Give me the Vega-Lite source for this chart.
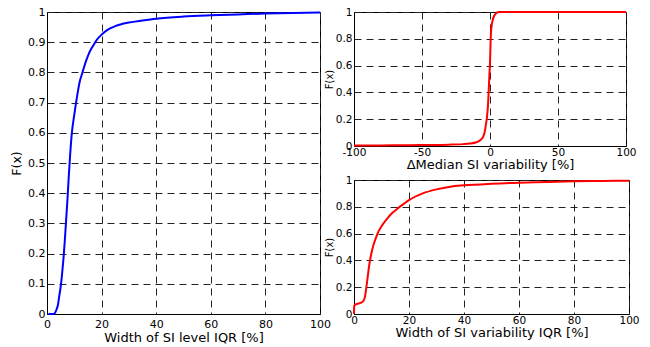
{
  "$schema": "https://vega.github.io/schema/vega-lite/v6.json",
  "padding": {"left": 10, "top": 5, "right": 0, "bottom": 0},
  "background": "white",
  "bounds": "flush",
  "spacing": 34,
  "config": {
    "font": "DejaVu Sans",
    "view": {"stroke": "black", "strokeWidth": 1},
    "axis": {
      "grid": true,
      "gridColor": "#222",
      "gridDash": [7, 5],
      "gridWidth": 1,
      "domainColor": "black",
      "ticks": false,
      "labelFont": "DejaVu Sans",
      "titleFont": "DejaVu Sans",
      "labelColor": "black",
      "titleColor": "black",
      "titleFontWeight": "normal",
      "labelFlush": false,
      "labelOverlap": false,
      "labelExpr": "'' + datum.value"
    }
  },
  "datasets": {
    "level": [
      {"x": 0.5, "F": 0}, {"x": 2.5, "F": 0}, {"x": 3, "F": 0.005}, {"x": 3.5, "F": 0.015},
      {"x": 4, "F": 0.03}, {"x": 4.5, "F": 0.06}, {"x": 5, "F": 0.09}, {"x": 5.5, "F": 0.13},
      {"x": 6, "F": 0.18}, {"x": 6.5, "F": 0.24}, {"x": 7, "F": 0.31}, {"x": 7.5, "F": 0.38},
      {"x": 8, "F": 0.46}, {"x": 8.5, "F": 0.53}, {"x": 9, "F": 0.59}, {"x": 10, "F": 0.66},
      {"x": 11, "F": 0.72}, {"x": 12, "F": 0.77}, {"x": 13, "F": 0.8}, {"x": 14, "F": 0.83},
      {"x": 15, "F": 0.855}, {"x": 16, "F": 0.875}, {"x": 17, "F": 0.89}, {"x": 18, "F": 0.905},
      {"x": 20, "F": 0.925}, {"x": 22, "F": 0.94}, {"x": 25, "F": 0.953}, {"x": 30, "F": 0.965},
      {"x": 35, "F": 0.972}, {"x": 40, "F": 0.978}, {"x": 50, "F": 0.985}, {"x": 60, "F": 0.989},
      {"x": 70, "F": 0.992}, {"x": 80, "F": 0.995}, {"x": 90, "F": 0.997}, {"x": 100, "F": 0.998}
    ],
    "median": [
      {"x": -100, "F": 0.003}, {"x": -80, "F": 0.004}, {"x": -60, "F": 0.006}, {"x": -40, "F": 0.008},
      {"x": -30, "F": 0.01}, {"x": -20, "F": 0.014}, {"x": -15, "F": 0.018}, {"x": -10, "F": 0.028},
      {"x": -7, "F": 0.045}, {"x": -5, "F": 0.07}, {"x": -4, "F": 0.1}, {"x": -3, "F": 0.16},
      {"x": -2.4, "F": 0.2}, {"x": -1.5, "F": 0.3}, {"x": -1, "F": 0.4}, {"x": -0.5, "F": 0.52},
      {"x": 0, "F": 0.62}, {"x": 0.5, "F": 0.8}, {"x": 1, "F": 0.88}, {"x": 2, "F": 0.94},
      {"x": 3, "F": 0.97}, {"x": 4, "F": 0.985}, {"x": 5, "F": 0.995}, {"x": 7, "F": 1},
      {"x": 100, "F": 1}
    ],
    "variability": [
      {"x": 0, "F": 0}, {"x": 0.05, "F": 0.06}, {"x": 0.5, "F": 0.07}, {"x": 1, "F": 0.075},
      {"x": 2, "F": 0.08}, {"x": 3, "F": 0.09}, {"x": 3.5, "F": 0.1}, {"x": 4, "F": 0.13},
      {"x": 4.5, "F": 0.2}, {"x": 5, "F": 0.28}, {"x": 5.5, "F": 0.36}, {"x": 6, "F": 0.42},
      {"x": 7, "F": 0.51}, {"x": 8, "F": 0.57}, {"x": 9, "F": 0.62}, {"x": 10, "F": 0.655},
      {"x": 12, "F": 0.71}, {"x": 14, "F": 0.755}, {"x": 16, "F": 0.79}, {"x": 18, "F": 0.82},
      {"x": 20, "F": 0.85}, {"x": 25, "F": 0.9}, {"x": 30, "F": 0.93}, {"x": 35, "F": 0.95},
      {"x": 40, "F": 0.96}, {"x": 50, "F": 0.972}, {"x": 60, "F": 0.98}, {"x": 70, "F": 0.985},
      {"x": 80, "F": 0.99}, {"x": 90, "F": 0.993}, {"x": 100, "F": 0.995}
    ]
  },
  "hconcat": [
    {
      "width": 273,
      "height": 302,
      "data": {"name": "level"},
      "mark": {"type": "line", "color": "#0000ff", "strokeWidth": 2, "interpolate": "monotone"},
      "encoding": {
        "x": {
          "field": "x", "type": "quantitative",
          "scale": {"domain": [0, 100], "nice": false, "zero": false},
          "axis": {"values": [0, 20, 40, 60, 80, 100], "title": "Width of SI level IQR [%]",
                   "labelFontSize": 11, "titleFontSize": 13, "labelPadding": 4, "titlePadding": 2}
        },
        "y": {
          "field": "F", "type": "quantitative",
          "scale": {"domain": [0, 1], "nice": false},
          "axis": {"values": [0, 0.1, 0.2, 0.3, 0.4, 0.5, 0.6, 0.7, 0.8, 0.9, 1], "title": "F(x)",
                   "labelFontSize": 11, "titleFontSize": 12.5, "labelPadding": 2, "titlePadding": 4}
        }
      }
    },
    {
      "vconcat": [
        {
          "width": 272,
          "height": 134,
          "data": {"name": "median"},
          "mark": {"type": "line", "color": "#ff0000", "strokeWidth": 2, "interpolate": "monotone"},
          "encoding": {
            "x": {
              "field": "x", "type": "quantitative",
              "scale": {"domain": [-100, 100], "nice": false, "zero": false},
              "axis": {"values": [-100, -50, 0, 50, 100], "title": "ΔMedian SI variability [%]",
                       "labelFontSize": 10.5, "titleFontSize": 13, "labelPadding": 1, "titlePadding": 1}
            },
            "y": {
              "field": "F", "type": "quantitative",
              "scale": {"domain": [0, 1], "nice": false},
              "axis": {"values": [0, 0.2, 0.4, 0.6, 0.8, 1], "title": "F(x)",
                       "labelFontSize": 10.5, "titleFontSize": 10, "labelPadding": 2, "titlePadding": 1}
            }
          }
        },
        {
          "width": 275,
          "height": 134,
          "data": {"name": "variability"},
          "mark": {"type": "line", "color": "#ff0000", "strokeWidth": 2, "interpolate": "monotone"},
          "encoding": {
            "x": {
              "field": "x", "type": "quantitative",
              "scale": {"domain": [0, 100], "nice": false, "zero": false},
              "axis": {"values": [0, 20, 40, 60, 80, 100], "title": "Width of SI variability IQR [%]",
                       "labelFontSize": 10.5, "titleFontSize": 13, "labelPadding": 1, "titlePadding": 1}
            },
            "y": {
              "field": "F", "type": "quantitative",
              "scale": {"domain": [0, 1], "nice": false},
              "axis": {"values": [0, 0.2, 0.4, 0.6, 0.8, 1], "title": "F(x)",
                       "labelFontSize": 10.5, "titleFontSize": 10, "labelPadding": 2, "titlePadding": 1}
            }
          }
        }
      ],
      "spacing": 34,
      "bounds": "flush"
    }
  ]
}
